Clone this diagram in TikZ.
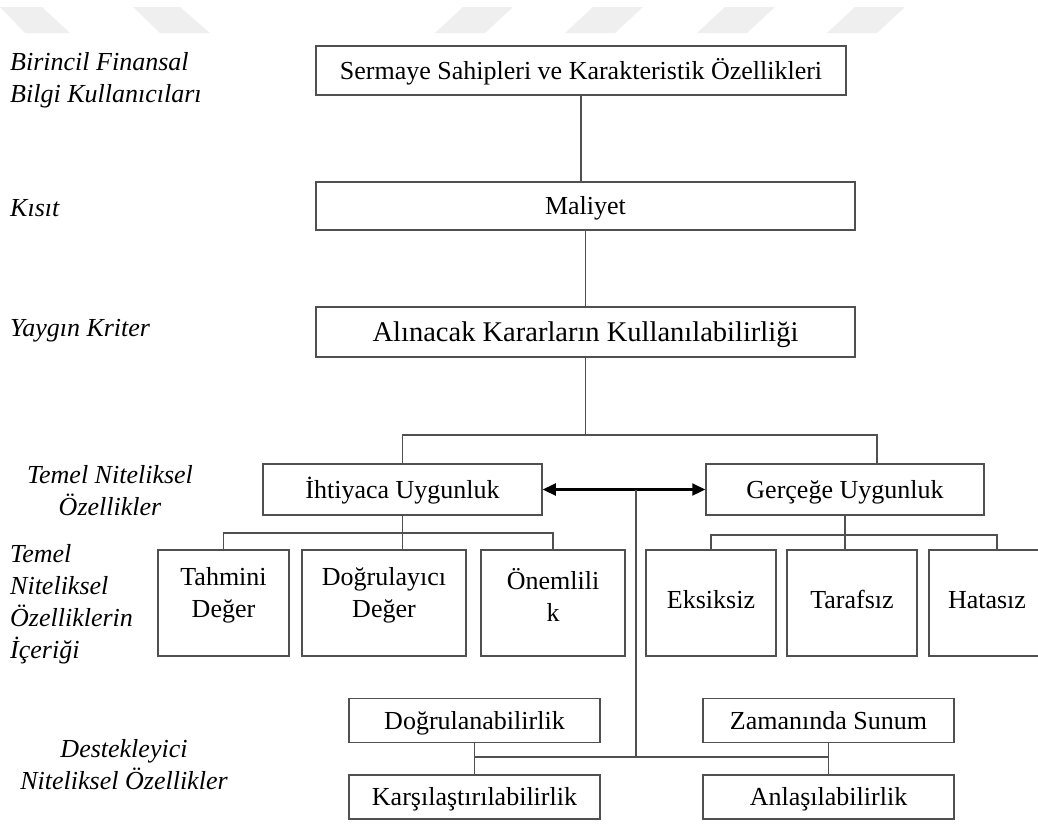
\documentclass[tikz,border=0pt]{standalone}
\usepackage{fontspec}
\setmainfont{Liberation Serif}
\usetikzlibrary{arrows.meta,calc}
\definecolor{lineg}{HTML}{505050}
\definecolor{wmgray}{HTML}{EFEFEF}
\begin{document}
\begin{tikzpicture}[x=1pt,y=-1pt,
  box/.style={draw=lineg, line width=1.5pt, rectangle, inner sep=0pt, align=center, font=\fontsize{26}{31}\selectfont, text height=20pt, text depth=3pt},
  tall/.style={box, minimum height=106pt, text height=20pt, text depth=9pt},
  txt/.style={inner sep=0pt, align=center, font=\fontsize{26}{32}\selectfont},
  lab/.style={inner sep=0pt, font=\fontsize{26}{32}\selectfont\itshape},
  conn/.style={draw=lineg, line width=1.5pt},
  arr/.style={draw=black, line width=2.2pt, {Triangle[length=13pt,width=12pt]}-{Triangle[length=13pt,width=12pt]}},
  wm/.style={fill=wmgray, draw=none}
]
\useasboundingbox (0,0) rectangle (1038,823);
\clip (0,0) rectangle (1038,823);

% watermark shapes
\fill[wm] (0,7) -- (42,7) -- (70,33) -- (25,33) -- cycle;
\fill[wm] (133,7) -- (180,7) -- (210,33) -- (160,33) -- cycle;
\foreach \a in {435,565,697,827}{
  \fill[wm] (\a,33) -- (\a+50,33) -- (\a+78,7) -- (\a+28,7) -- cycle;
}

% left labels
\node[lab, anchor=west, align=left] (l1) at (10,80) {Birincil Finansal\\Bilgi Kullanıcıları};
\node[lab, anchor=west] (l2) at (10,208) {Kısıt};
\node[lab, anchor=west] (l3) at (10,331) {Yaygın Kriter};
\node[lab, align=center] (l4) at (110,491) {Temel Niteliksel\\Özellikler};
\node[lab, anchor=west, align=left] (l5) at (10,604) {Temel\\Niteliksel\\Özelliklerin\\İçeriği};
\node[lab, align=center] (l6) at (124,765) {Destekleyici\\Niteliksel Özellikler};

% main boxes
\node[box, minimum width=530pt, minimum height=49pt] (sermaye) at (581,70.5) {Sermaye Sahipleri ve Karakteristik Özellikleri};
\node[box, minimum width=539pt, minimum height=48pt] (maliyet) at (585.5,206) {Maliyet};
\node[box, minimum width=539pt, minimum height=50pt, font=\fontsize{28.5}{34}\selectfont, text height=22pt, text depth=3pt] (alinacak) at (585.5,332) {Alınacak Kararların Kullanılabilirliği};
\node[box, minimum width=279pt, minimum height=51pt] (ihtiyaca) at (402.5,489.5) {İhtiyaca Uygunluk};
\node[box, minimum width=278pt, minimum height=51pt] (gercege) at (845,489.5) {Gerçeğe Uygunluk};

% content boxes
\node[tall, minimum width=131pt] (tahmini) at (223.5,603) {};
\node[txt] (tahminiT) at (223.5,595) {Tahmini\\Değer};
\node[tall, minimum width=164pt] (dogrulayici) at (384,603) {};
\node[txt] (dogrulayiciT) at (384,595) {Doğrulayıcı\\Değer};
\node[tall, minimum width=144pt] (onemlilik) at (553,603) {};
\node[txt] (onemlilikT) at (553,595) {Önemlili\\k};
\node[tall, minimum width=130pt] (eksiksiz) at (711,603) {Eksiksiz};
\node[tall, minimum width=130pt] (tarafsiz) at (852,603) {Tarafsız};
\node[tall, minimum width=116pt] (hatasiz) at (987,603) {Hatasız};

% supporting boxes
\node[box, minimum width=251pt, minimum height=44pt] (dogrulanabilirlik) at (474.5,720.5) {Doğrulanabilirlik};
\node[box, minimum width=251pt, minimum height=44pt] (zamaninda) at (828.5,720.5) {Zamanında Sunum};
\node[box, minimum width=251pt, minimum height=44pt] (karsilastirma) at (474.5,797) {Karşılaştırılabilirlik};
\node[box, minimum width=251pt, minimum height=44pt] (anlasilabilirlik) at (828.5,797) {Anlaşılabilirlik};

% coordinates
\coordinate (j1) at (585.5,435);
\coordinate (g1) at (877,435);
\coordinate (h1) at (402.5,533);
\coordinate (g2) at (845,535);
\coordinate (hd) at (997,550);
\coordinate (c1) at (636,489.5);
\coordinate (c2) at (636,757);

% connectors
\draw[conn] (sermaye.south) -- (sermaye.south |- maliyet.north);
\draw[conn] (maliyet.south) -- (alinacak.north);
\draw[conn] (alinacak.south) -- (j1);
\draw[conn] (ihtiyaca.north) |- (j1) -- (g1) -- (g1 |- gercege.north);
\draw[arr] (ihtiyaca.east) -- (gercege.west);
\draw[conn] (c1) -- (c2);
\draw[conn] (ihtiyaca.south) -- (ihtiyaca.south |- tahmini.north);
\draw[conn] (tahmini.north) |- (h1) -| (onemlilik.north);
\draw[conn] (gercege.south) -- (gercege.south |- tarafsiz.north);
\draw[conn] (eksiksiz.north) |- (g2) -| (hd);
\draw[conn] (dogrulanabilirlik.south) -- (karsilastirma.north);
\draw[conn] (zamaninda.south) -- (anlasilabilirlik.north);
\draw[conn] (dogrulanabilirlik.south |- c2) -- (zamaninda.south |- c2);
\end{tikzpicture}
\end{document}
